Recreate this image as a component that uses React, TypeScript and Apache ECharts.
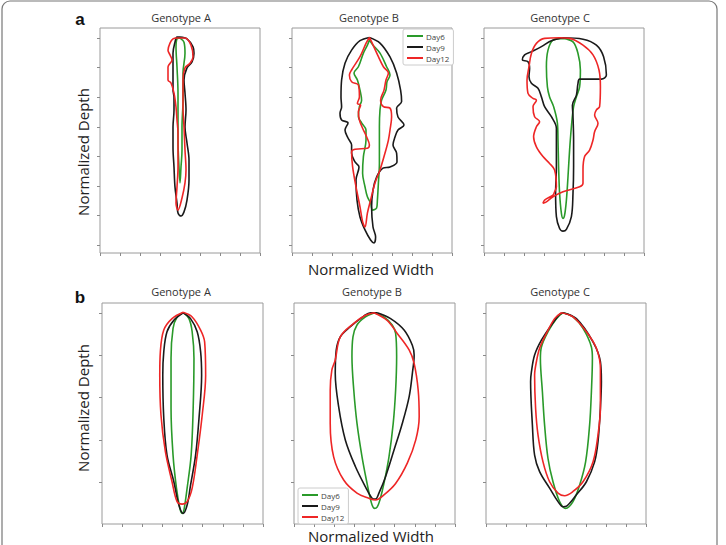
import React, { useEffect, useRef } from "react";
import * as echarts from "echarts";

// ---- Panel a (raw contours); x = normalized width (centered), y = normalized depth (0 = top tick)
const aA_day6 = [[0,0],[0.2,0.14],[0.25,0.51],[0.15,1.18],[0.15,2.1],[0.1,3.01],[0.1,3.79],[0.05,4.36],[0,4.9],[-0.05,4.36],[-0.1,3.45],[-0.1,2.67],[-0.1,1.86],[-0.15,0.98],[-0.2,0.3],[-0.15,0.03]];
const aA_day9 = [[0,-0.03],[0.35,0.03],[0.65,0.3],[0.7,0.51],[0.6,0.81],[0.35,1.01],[0.2,1.42],[0.25,1.86],[0.3,2.43],[0.25,3.01],[0.35,3.55],[0.45,4.13],[0.45,4.8],[0.35,5.48],[0.2,5.88],[0.05,6.02],[-0.1,5.92],[-0.15,5.58],[-0.25,5.04],[-0.3,4.36],[-0.35,3.69],[-0.35,3.01],[-0.3,2.43],[-0.3,2.0],[-0.35,1.76],[-0.35,1.42],[-0.35,0.98],[-0.35,0.51],[-0.25,0.14],[-0.15,-0.03]];
const aA_day12 = [[-0.15,0],[0.25,0],[0.55,0.24],[0.65,0.64],[0.5,0.85],[0.25,1.01],[0.15,1.42],[0.15,1.86],[0.15,2.33],[0.2,3.01],[0.25,3.79],[0.3,4.46],[0.25,4.9],[0.1,5.41],[-0.1,5.82],[-0.2,5.58],[-0.15,5.04],[-0.1,4.36],[-0.1,3.79],[-0.1,3.21],[-0.15,2.77],[-0.2,2.33],[-0.3,1.86],[-0.45,1.52],[-0.6,1.42],[-0.6,0.98],[-0.4,0.74],[-0.5,0.57],[-0.6,0.41],[-0.5,0.17],[-0.35,0.03]];

const aB_day6 = [[-0.13,0.07],[0.05,0.24],[0.4,0.51],[0.73,0.97],[0.9,1.25],[0.75,1.48],[0.7,1.76],[0.48,2.1],[0.4,2.43],[0.37,3.0],[0.37,3.68],[0.37,4.23],[0.32,4.9],[0.27,5.48],[0.23,5.75],[0.03,5.82],[-0.07,5.58],[-0.23,5.37],[-0.35,5.03],[-0.47,4.57],[-0.43,4.01],[-0.3,3.45],[-0.3,3.11],[-0.52,2.87],[-0.68,2.66],[-0.63,2.32],[-0.52,2.1],[-0.6,1.76],[-0.73,1.42],[-0.9,1.18],[-0.68,0.97],[-0.43,0.51],[-0.23,0.24]];
const aB_day9 = [[-0.13,-0.02],[0.4,0.17],[0.9,0.64],[1.23,1.18],[1.43,1.76],[1.48,2.15],[1.23,2.37],[1.3,2.67],[1.6,2.94],[1.3,3.11],[1.15,3.35],[1.05,3.62],[1.23,3.89],[1.25,4.19],[0.9,4.36],[0.55,4.4],[0.23,4.7],[0.05,5.14],[-0.02,5.72],[0.05,6.39],[0.18,6.73],[0.1,6.93],[-0.07,6.83],[-0.35,6.49],[-0.6,6.05],[-0.75,5.48],[-0.8,4.8],[-0.65,4.36],[-0.85,4.19],[-1.02,3.89],[-1.02,3.62],[-1.2,3.38],[-1.35,3.11],[-1.2,2.87],[-1.52,2.77],[-1.6,2.54],[-1.52,2.33],[-1.55,2.0],[-1.52,1.42],[-1.35,0.85],[-1.02,0.41],[-0.6,0.09]];
const aB_day12 = [[-0.13,-0.02],[-0.02,0.13],[0.32,0.63],[0.57,0.97],[0.82,1.18],[0.7,1.42],[0.6,1.76],[0.43,2.1],[0.57,2.32],[0.9,2.37],[0.98,2.66],[0.9,3.11],[0.82,3.45],[0.65,3.89],[0.4,4.46],[0.15,4.9],[-0.07,5.48],[-0.23,5.92],[-0.35,6.39],[-0.47,6.21],[-0.6,5.71],[-0.8,5.03],[-0.97,4.35],[-1.02,3.85],[-0.85,3.76],[-0.23,3.73],[-0.13,3.62],[-0.27,3.34],[-0.47,3.05],[-0.63,2.77],[-0.68,2.49],[-0.57,2.27],[-0.73,2.21],[-0.63,1.99],[-0.68,1.59],[-1.02,1.48],[-1.13,1.25],[-1.02,1.08],[-0.6,0.63],[-0.3,0.18]];

const aC_day6 = [[-0.05,0.01],[0.45,0.13],[0.7,0.52],[0.82,1.08],[0.78,1.65],[0.62,1.99],[0.48,2.32],[0.37,3.0],[0.28,3.79],[0.2,4.69],[0.12,5.48],[0.03,5.99],[-0.05,6.1],[-0.13,5.93],[-0.22,5.25],[-0.27,4.35],[-0.3,3.45],[-0.33,2.88],[-0.52,2.32],[-0.72,1.99],[-0.83,1.65],[-0.88,0.97],[-0.8,0.41],[-0.55,0.07]];
const aC_day9 = [[-0.05,-0.01],[0.95,0.04],[1.62,0.24],[1.98,0.63],[2.12,1.25],[1.87,1.39],[0.78,1.39],[0.7,1.53],[0.62,1.93],[0.42,2.27],[0.45,2.66],[0.48,3.45],[0.48,4.35],[0.45,5.25],[0.37,6.04],[0.12,6.47],[-0.05,6.53],[-0.22,6.44],[-0.38,6.04],[-0.42,5.25],[-0.38,4.35],[-0.38,3.56],[-0.38,3.05],[-0.63,2.66],[-0.97,2.32],[-1.13,1.99],[-1.3,1.7],[-1.63,1.53],[-1.75,1.31],[-1.72,1.02],[-1.8,0.8],[-2.08,0.74],[-1.97,0.57],[-1.63,0.46],[-1.13,0.29],[-0.63,0.09]];
const aC_day12 = [[-0.22,-0.01],[0.28,0.01],[0.95,0.24],[1.45,0.57],[1.75,1.08],[1.82,1.65],[1.78,2.32],[1.62,2.43],[1.53,2.6],[1.7,2.88],[1.53,3.17],[1.45,3.45],[1.28,3.79],[1.03,4.01],[0.95,4.46],[0.95,4.91],[0.78,5.03],[-0.05,5.2],[-0.55,5.37],[-0.88,5.54],[-1.05,5.59],[-0.97,5.48],[-0.55,5.31],[-0.47,5.2],[-0.38,5.03],[-0.47,4.46],[-0.72,4.24],[-1.05,4.01],[-1.38,3.68],[-1.52,3.34],[-1.38,3.0],[-1.22,2.83],[-1.47,2.66],[-1.55,2.32],[-1.38,2.1],[-1.55,2.04],[-1.8,1.87],[-1.85,1.42],[-1.75,0.97],[-1.63,0.52],[-1.38,0.18],[-0.97,0.01]];

// ---- Panel b (smoothed contours)
const bA_day6 = [[0.03,-0.01],[0.32,0.13],[0.48,0.44],[0.57,1.07],[0.53,2.25],[0.43,3.36],[0.23,4.14],[0.07,4.66],[-0.02,4.74],[-0.13,4.62],[-0.3,4.14],[-0.47,3.36],[-0.57,2.25],[-0.57,1.07],[-0.47,0.36],[-0.27,0.09]];
const bA_day9 = [[0.03,-0.01],[0.4,0.13],[0.73,0.44],[0.9,0.91],[0.95,1.47],[0.82,2.49],[0.65,3.36],[0.4,4.07],[0.23,4.54],[0.03,4.74],[-0.18,4.54],[-0.43,3.99],[-0.77,3.36],[-0.93,2.49],[-0.98,1.47],[-0.93,0.91],[-0.77,0.44],[-0.43,0.17]];
const bA_day12 = [[0.03,-0.02],[0.48,0.09],[0.9,0.4],[1.1,0.68],[1.15,1.47],[0.98,2.41],[0.73,3.36],[0.48,4.14],[0.23,4.46],[-0.02,4.52],[-0.27,4.46],[-0.52,3.99],[-0.85,3.28],[-1.07,2.41],[-1.13,1.47],[-1.1,0.91],[-0.93,0.4],[-0.52,0.13]];

const bB_day6 = [[0,-0.01],[0.47,0.09],[0.88,0.28],[1.05,0.48],[1.1,1.03],[1.05,1.82],[0.93,2.61],[0.72,3.4],[0.47,4.03],[0.27,4.42],[0.13,4.59],[0,4.62],[-0.12,4.54],[-0.23,4.34],[-0.37,4.03],[-0.62,3.4],[-0.87,2.61],[-1.03,1.82],[-1.12,1.03],[-1.07,0.56],[-0.87,0.28],[-0.45,0.09]];
const bB_day9 = [[0.13,-0.01],[0.8,0.13],[1.47,0.4],[1.88,0.76],[1.97,0.99],[1.88,1.43],[1.72,1.98],[1.38,2.61],[0.97,3.24],[0.55,3.87],[0.22,4.26],[0.05,4.4],[-0.12,4.38],[-0.45,4.11],[-0.95,3.63],[-1.45,3.0],[-1.78,2.22],[-1.95,1.43],[-1.9,0.87],[-1.7,0.56],[-1.2,0.32],[-0.53,0.07],[-0.2,-0.01]];
const bB_day12 = [[-0.03,-0.01],[0.63,0.17],[1.13,0.48],[1.72,0.87],[1.97,1.19],[2.17,1.82],[2.22,2.45],[2.05,3.0],[1.63,3.55],[1.05,4.03],[0.47,4.3],[0.05,4.42],[-0.28,4.38],[-0.87,4.26],[-1.53,3.95],[-2.03,3.4],[-2.2,2.61],[-2.2,1.82],[-2.12,1.35],[-1.95,1.11],[-1.7,0.56],[-1.03,0.24],[-0.45,0.05]];

const bC_day6 = [[-0.15,-0.01],[0.35,0.09],[0.85,0.36],[1.27,0.8],[1.32,1.07],[1.27,1.86],[1.18,2.65],[0.98,3.52],[0.68,4.07],[0.35,4.46],[-0.02,4.62],[-0.32,4.46],[-0.65,3.99],[-0.9,3.44],[-1.07,2.65],[-1.18,1.86],[-1.28,1.07],[-1.23,0.8],[-0.9,0.44],[-0.48,0.13]];
const bC_day9 = [[-0.15,-0.01],[0.52,0.13],[1.35,0.68],[1.72,1.15],[1.77,1.62],[1.72,2.25],[1.6,3.04],[1.43,3.52],[1.02,3.99],[0.52,4.3],[0.05,4.56],[-0.15,4.58],[-0.4,4.46],[-0.82,4.14],[-1.32,3.75],[-1.57,3.36],[-1.68,2.65],[-1.77,1.62],[-1.73,1.39],[-1.57,0.99],[-1.23,0.64],[-0.73,0.28],[-0.32,0.03]];
const bC_day12 = [[-0.23,-0.01],[0.35,0.09],[1.02,0.44],[1.52,0.83],[1.72,1.31],[1.72,2.25],[1.6,2.88],[1.35,3.52],[0.85,3.99],[0.35,4.22],[-0.07,4.32],[-0.4,4.26],[-0.82,3.99],[-1.15,3.52],[-1.4,2.88],[-1.52,2.25],[-1.57,1.47],[-1.48,1.15],[-1.32,0.83],[-0.98,0.48],[-0.57,0.13]];

const DAYS = ["Day6", "Day9", "Day12"];
const COLORS = ["#2a9a2a", "#1a1a1a", "#ee2626"];
const GENOTYPES = ["Genotype A", "Genotype B", "Genotype C"];
const A_DEPTH_TICKS = [0, 1, 2, 3, 4, 5, 6, 7];
const B_DEPTH_TICKS = [0, 1, 2, 3, 4];

const panelData = [
  [aA_day6, aA_day9, aA_day12],
  [aB_day6, aB_day9, aB_day12],
  [aC_day6, aC_day9, aC_day12],
  [bA_day6, bA_day9, bA_day12],
  [bB_day6, bB_day9, bB_day12],
  [bC_day6, bC_day9, bC_day12],
];

const FONT = "'Open Sans', 'Noto Sans', sans-serif";

export default function App() {
  const ref = useRef<HTMLDivElement>(null);
  useEffect(() => {
    if (!ref.current) return;
    const chart = echarts.init(ref.current, null, { renderer: "svg" });

    const grids = [
      { left: 100, top: 28, width: 160, height: 225 },
      { left: 292, top: 28, width: 160, height: 225 },
      { left: 484, top: 28, width: 160, height: 225 },
      { left: 102, top: 303, width: 161, height: 221 },
      { left: 294, top: 303, width: 161, height: 221 },
      { left: 486, top: 303, width: 160, height: 221 },
    ].map((g) => ({ ...g, show: true, borderColor: "#9a9a9a", borderWidth: 1, backgroundColor: "#fff" }));

    const tickStyle = { show: true, inside: false, length: 3, lineStyle: { color: "#8a8a8a", width: 1 } };

    const xAxes = grids.map((_, i) => ({
      type: "value",
      gridIndex: i,
      position: "bottom",
      min: -4,
      max: 4,
      interval: 1,
      axisLine: { show: false, onZero: false },
      axisLabel: { show: false },
      splitLine: { show: false },
      axisTick: tickStyle,
    }));

    const yAxes = grids.map((_, i) => {
      const isA = i < 3;
      const ticks = isA ? A_DEPTH_TICKS : B_DEPTH_TICKS;
      return {
        type: "value",
        gridIndex: i,
        position: "left",
        inverse: true,
        min: isA ? -0.34 : -0.24,
        max: isA ? 7.27 : 4.99,
        axisLine: { show: false, onZero: false },
        axisLabel: { show: false, customValues: ticks },
        splitLine: { show: false },
        axisTick: { ...tickStyle, customValues: ticks },
      };
    });

    const series: any[] = [];
    panelData.forEach((curves, i) => {
      curves.forEach((pts, k) => {
        series.push({
          type: "line",
          name: DAYS[k],
          xAxisIndex: i,
          yAxisIndex: i,
          data: [...pts, pts[0]],
          showSymbol: false,
          symbol: "none",
          smooth: 0.35,
          lineStyle: { color: COLORS[k], width: 1.6 },
          itemStyle: { color: COLORS[k] },
          silent: true,
          z: 2 + k,
        });
      });
    });

    const legendBase = {
      data: DAYS,
      orient: "vertical",
      icon: "rect",
      itemWidth: 16,
      itemHeight: 2,
      itemGap: 3,
      padding: [3, 4, 3, 4],
      borderColor: "#cccccc",
      borderWidth: 1,
      borderRadius: 2,
      backgroundColor: "#fff",
      selectedMode: false,
      textStyle: { fontSize: 8, color: "#444", fontFamily: FONT, padding: [0, 0, 0, -2] },
    };

    const texts: any[] = [];
    const titleCentersA = [181, 369, 560];
    const titleCentersB = [181, 372, 560];
    GENOTYPES.forEach((g, j) => {
      [[titleCentersA[j], 17], [titleCentersB[j], 291]].forEach(([cx, cy]) => {
        texts.push({
          type: "text",
          x: cx,
          y: cy,
          style: { text: g, fontSize: 11, fontFamily: FONT, fill: "#333", align: "center", verticalAlign: "middle", textAlign: "center", textVerticalAlign: "middle" },
        });
      });
    });
    [["a", 19], ["b", 297]].forEach(([t, y]) => {
      texts.push({
        type: "text",
        x: 80,
        y: y as number,
        style: { text: t as string, fontSize: 17, fontWeight: "bold", fontFamily: "'Liberation Sans', Arial, sans-serif", fill: "#111", align: "center", verticalAlign: "middle", textAlign: "center", textVerticalAlign: "middle" },
      });
    });
    [152, 408].forEach((cy) => {
      texts.push({
        type: "text",
        x: 83,
        y: cy,
        rotation: Math.PI / 2,
        style: { text: "Normalized Depth", fontSize: 15, fontFamily: FONT, fill: "#222", align: "center", verticalAlign: "middle", textAlign: "center", textVerticalAlign: "middle" },
      });
    });
    [269, 536].forEach((cy) => {
      texts.push({
        type: "text",
        x: 371,
        y: cy,
        style: { text: "Normalized Width", fontSize: 15, fontFamily: FONT, fill: "#222", align: "center", verticalAlign: "middle", textAlign: "center", textVerticalAlign: "middle" },
      });
    });

    chart.setOption({
      animation: false,
      backgroundColor: "#fff",
      grid: grids,
      xAxis: xAxes,
      yAxis: yAxes,
      series,
      legend: [
        { ...legendBase, left: 403, top: 29 },
        { ...legendBase, left: 298, top: 488 },
      ],
      graphic: [
        {
          type: "rect",
          shape: { x: 2, y: 1, width: 715, height: 580, r: 8 },
          style: { fill: "none", stroke: "#777", lineWidth: 1.2 },
          silent: true,
          z: 100,
        },
        ...texts,
      ],
    });

    return () => chart.dispose();
  }, []);

  return <div ref={ref} style={{ position: "fixed", left: 0, top: 0, width: 726, height: 545 }} />;
}
